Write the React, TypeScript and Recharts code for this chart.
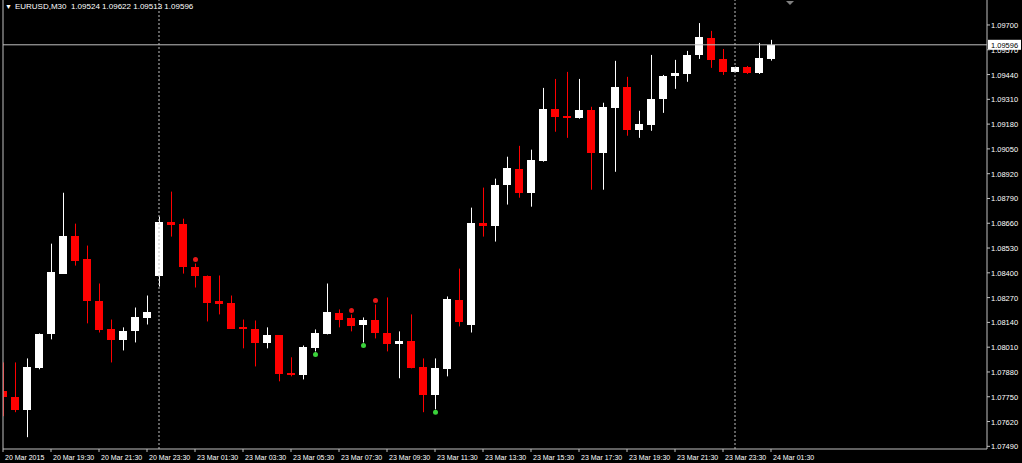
import React from "react";
import { ComposedChart, Bar, XAxis, YAxis, ReferenceLine } from "recharts";

// EURUSD M30, 20 Mar 2015 17:30 .. 24 Mar 01:30
const openP = [
  1.07779, 1.07747, 1.07679, 1.07899, 1.08077, 1.08396, 1.08595, 1.0847, 1.0825, 1.08108,
  1.08046, 1.08093, 1.08161, 1.08386, 1.08669, 1.08658, 1.08433, 1.08386, 1.0825, 1.08244,
  1.08114, 1.08108, 1.0803, 1.08072, 1.07873, 1.07862, 1.08004, 1.08077, 1.08187, 1.08161,
  1.08124, 1.0815, 1.08087, 1.08025, 1.0804, 1.07904, 1.07758, 1.07894, 1.0826, 1.08129,
  1.08663, 1.08648, 1.08862, 1.08946, 1.0882, 1.08988, 1.0926, 1.09224, 1.09213, 1.09255,
  1.0903, 1.09265, 1.09375, 1.0915, 1.09176, 1.09313, 1.09433, 1.09443, 1.09543, 1.09632,
  1.09522, 1.09454, 1.0948, 1.09449, 1.09524,
];
const highP = [
  1.0793, 1.0793, 1.07951, 1.08082, 1.08553, 1.0882, 1.08658, 1.08543, 1.08344, 1.08155,
  1.08114, 1.08218, 1.08281, 1.08695, 1.08826, 1.08684, 1.08449, 1.08386, 1.08386, 1.08281,
  1.08155, 1.0815, 1.08114, 1.08072, 1.07957, 1.08019, 1.08103, 1.08344, 1.08208, 1.08182,
  1.08166, 1.08234, 1.08271, 1.08093, 1.08182, 1.07951, 1.07951, 1.08276, 1.08422, 1.08742,
  1.08847, 1.08894, 1.09009, 1.09066, 1.09046, 1.0937, 1.09417, 1.09454, 1.09417, 1.09271,
  1.09292, 1.09512, 1.09428, 1.0925, 1.09543, 1.09438, 1.09517, 1.09564, 1.0971, 1.09669,
  1.09574, 1.09482, 1.09485, 1.09606, 1.09622,
];
const lowP = [
  1.07648, 1.07669, 1.07538, 1.07894, 1.08051, 1.08396, 1.08438, 1.08135, 1.08087, 1.0793,
  1.07993, 1.08035, 1.08129, 1.08328, 1.0859, 1.08396, 1.08323, 1.08145, 1.08182, 1.08108,
  1.08004, 1.07909, 1.08004, 1.07831, 1.07857, 1.07841, 1.07988, 1.08077, 1.08114, 1.08093,
  1.08035, 1.08056, 1.07988, 1.07847, 1.07899, 1.07669, 1.07684, 1.07857, 1.08119, 1.08087,
  1.0859, 1.08564, 1.08758, 1.08794, 1.08747, 1.08983, 1.0914, 1.09108, 1.09208, 1.08836,
  1.08836, 1.0893, 1.09119, 1.09108, 1.09145, 1.09239, 1.09365, 1.09402, 1.09522, 1.09475,
  1.09438, 1.09452, 1.09443, 1.09443, 1.09513,
];
const closeP = [
  1.07747, 1.07679, 1.07904, 1.08077, 1.08402, 1.08595, 1.08464, 1.0825, 1.08098, 1.08046,
  1.08093, 1.08166, 1.08192, 1.08669, 1.08653, 1.08428, 1.08381, 1.08244, 1.08239, 1.08108,
  1.08106, 1.0803, 1.08072, 1.07868, 1.07862, 1.08009, 1.08082, 1.08192, 1.08155, 1.08119,
  1.08155, 1.08082, 1.08025, 1.0804, 1.07899, 1.07758, 1.07899, 1.08265, 1.0814, 1.08663,
  1.08648, 1.08862, 1.08951, 1.0882, 1.08993, 1.0926, 1.09218, 1.09213, 1.09255, 1.0903,
  1.09271, 1.09375, 1.0915, 1.09182, 1.09313, 1.09433, 1.09449, 1.09543, 1.09637, 1.09517,
  1.09454, 1.0948, 1.09449, 1.09527, 1.09596,
];

// fractal markers (bar index)
const upFractals = [16, 29, 31];
const downFractals = [26, 30, 36];

// one time label every 4 bars
const timeLabels = [
  "20 Mar 2015", "20 Mar 19:30", "20 Mar 21:30", "20 Mar 23:30", "23 Mar 01:30",
  "23 Mar 03:30", "23 Mar 05:30", "23 Mar 07:30", "23 Mar 09:30", "23 Mar 11:30",
  "23 Mar 13:30", "23 Mar 15:30", "23 Mar 17:30", "23 Mar 19:30", "23 Mar 21:30",
  "23 Mar 23:30", "24 Mar 01:30",
];
const priceTicks = [
  1.0749, 1.0762, 1.0775, 1.0788, 1.0801, 1.0814, 1.0827, 1.084, 1.0853, 1.0866,
  1.0879, 1.0892, 1.0905, 1.0918, 1.0931, 1.0944, 1.0957, 1.097,
];
const daySeparators = [13, 61];
const lastPrice = 1.09596;
const header = "EURUSD,M30  1.09524 1.09622 1.09513 1.09596";

const W = 1022;
const H = 463;
const BULL = "#ffffff";
const BEAR = "#ff0000";
const AXIS = "#c0c0c0";
const FONT = "'Liberation Sans', Arial, sans-serif";

const data = openP.map((o, i) => ({
  i,
  o,
  h: highP[i],
  l: lowP[i],
  c: closeP[i],
  range: [lowP[i], highP[i]],
}));
const tickIdx = timeLabels.map((_, k) => k * 4);

function Candle(props: any) {
  const { x, y, width, height, payload } = props;
  const top = Math.min(y, y + height);
  const bottom = Math.max(y, y + height);
  const { o, h, l, c, i } = payload;
  const k = (bottom - top) / (h - l);
  const py = (v: number) => top + (h - v) * k;
  const cx = Math.round(x + width / 2);
  const color = c >= o ? BULL : BEAR;
  const bTop = Math.round(py(Math.max(o, c)));
  const bBot = Math.round(py(Math.min(o, c)));
  return (
    <g>
      <line x1={cx + 0.5} x2={cx + 0.5} y1={top} y2={bottom} stroke={color} />
      <rect x={cx - 4} y={bTop} width={8} height={Math.max(2, bBot - bTop)} fill={color} />
      {upFractals.includes(i) && <circle cx={cx + 0.5} cy={top - 4} r={2.5} fill="#e81818" />}
      {downFractals.includes(i) && <circle cx={cx + 0.5} cy={bottom + 3} r={2.5} fill="#3ad13a" />}
    </g>
  );
}

function TimeTick({ x, y, payload }: any) {
  return (
    <text x={x + 2} y={y + 6} fill="#ffffff" fontSize={7} fontFamily={FONT} textAnchor="start">
      {timeLabels[payload.value / 4]}
    </text>
  );
}

function PriceTick({ x, y, payload }: any) {
  return (
    <text x={x} y={y + 3} fill="#ffffff" fontSize={7.5} fontFamily={FONT} textAnchor="start">
      {payload.value.toFixed(5)}
    </text>
  );
}

function PriceTag({ viewBox }: any) {
  const x = viewBox.x + viewBox.width + 1;
  const y = viewBox.y;
  return (
    <g>
      <rect x={x} y={y - 5} width={33} height={10} fill="#ffffff" />
      <text x={x + 3} y={y + 3} fill="#000000" fontSize={7.5} fontFamily={FONT}>
        {lastPrice.toFixed(5)}
      </text>
    </g>
  );
}

export default function App() {
  return (
    <div style={{ position: "fixed", left: 0, top: 0, width: W, height: H, background: "#000" }}>
      <ComposedChart width={W} height={H} data={data} margin={{ top: 0, right: 0, bottom: 0, left: 3 }}>
        <XAxis
          type="number"
          dataKey="i"
          domain={[0, 82]}
          ticks={tickIdx}
          interval={0}
          allowDataOverflow
          height={14}
          stroke={AXIS}
          tickSize={3}
          tick={<TimeTick />}
        />
        <YAxis
          orientation="right"
          type="number"
          domain={[1.07476, 1.09831]}
          ticks={priceTicks}
          interval={0}
          allowDataOverflow
          width={35}
          stroke={AXIS}
          tickSize={3}
          tickMargin={1}
          tick={<PriceTick />}
        />
        {daySeparators.map((d) => (
          <ReferenceLine key={d} x={d} stroke={AXIS} strokeDasharray="2 2" />
        ))}
        <ReferenceLine x={0} stroke={AXIS} />
        <Bar dataKey="range" barSize={8} shape={<Candle />} isAnimationActive={false} />
        <ReferenceLine y={lastPrice} stroke={AXIS} label={<PriceTag />} />
      </ComposedChart>
      <div
        style={{
          position: "absolute",
          left: 5,
          top: 2,
          color: "#fff",
          fontSize: 8,
          fontFamily: FONT,
          whiteSpace: "pre",
          lineHeight: "10px",
        }}
      >
        <span style={{ fontSize: 7, marginRight: 3 }}>▼</span>
        {header}
      </div>
      <div
        style={{
          position: "absolute",
          left: 786,
          top: 1,
          width: 0,
          height: 0,
          borderLeft: "4px solid transparent",
          borderRight: "4px solid transparent",
          borderTop: "4px solid #808080",
        }}
      />
    </div>
  );
}
